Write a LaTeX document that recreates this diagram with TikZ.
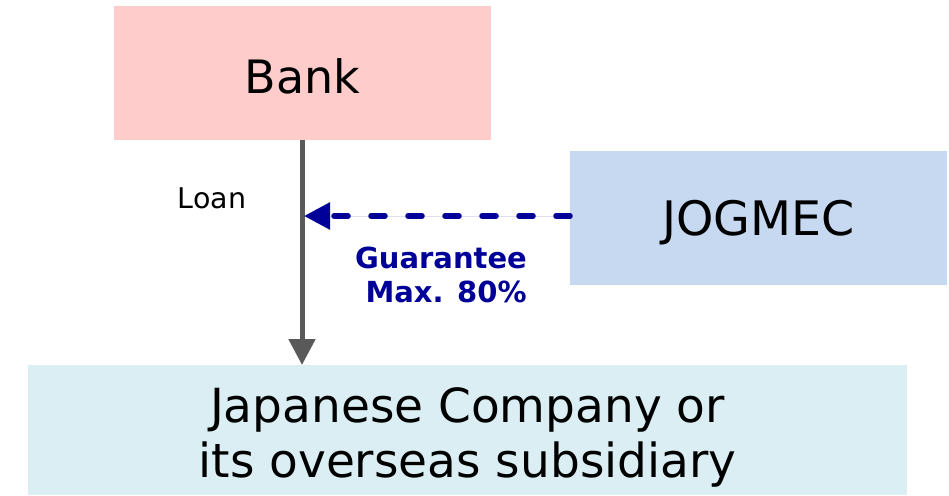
\documentclass[tikz,border=0pt]{standalone}
\usepackage{fontspec}
\setmainfont{DejaVu Sans}
\usetikzlibrary{arrows.meta}
\definecolor{bankfill}{HTML}{FFCCCC}
\definecolor{jogfill}{HTML}{C6D9F1}
\definecolor{compfill}{HTML}{DAEEF3}
\definecolor{loangray}{HTML}{595959}
\definecolor{guarblue}{HTML}{000099}
\tikzset{
  box/.style={inner sep=0pt, outer sep=0pt, align=center, text=black, text depth=0pt},
  loanarrow/.style={draw=loangray, line width=5pt, -{Triangle[width=26pt,length=26pt]}, fill=loangray},
  guararrow/.style={draw=guarblue, line width=5.5pt, line cap=round, dash pattern=on 14pt off 23pt, -{Triangle[width=26pt,length=26pt]}, fill=guarblue},
}
\begin{document}
\begin{tikzpicture}[x=1pt,y=-1pt]
\useasboundingbox (0,0) rectangle (949,495);
\node[box, font=\fontsize{46}{54}\selectfont, text height=40pt, fill=bankfill, minimum width=377pt, minimum height=134pt] (bank) at (302.5,73) {Bank};
\node[box, font=\fontsize{47.5}{54}\selectfont, text height=34pt, fill=jogfill, minimum width=377pt, minimum height=134pt] (jog) at (758.5,218) {JOGMEC};
\node[box, font=\fontsize{47}{55}\selectfont, text height=94pt, fill=compfill, minimum width=879pt, minimum height=130pt] (comp) at (467.5,430) {Japanese Company or\\its overseas subsidiary};
\coordinate (guartip) at (304,216);
\coordinate (loanstart) at (302,140);
\draw[loanarrow] (loanstart) -- (loanstart |- comp.north);
\draw[guararrow] (jog.west |- guartip) -- (guartip);
\node[anchor=base, font=\fontsize{28.5}{32}\selectfont] (loan) at (212,208) {Loan};
\node[anchor=base, align=center, text=guarblue, font=\bfseries\fontsize{29}{34}\selectfont] (guar) at (441,302) {Guarantee\\\ Max. 80\%};
\end{tikzpicture}
\end{document}
